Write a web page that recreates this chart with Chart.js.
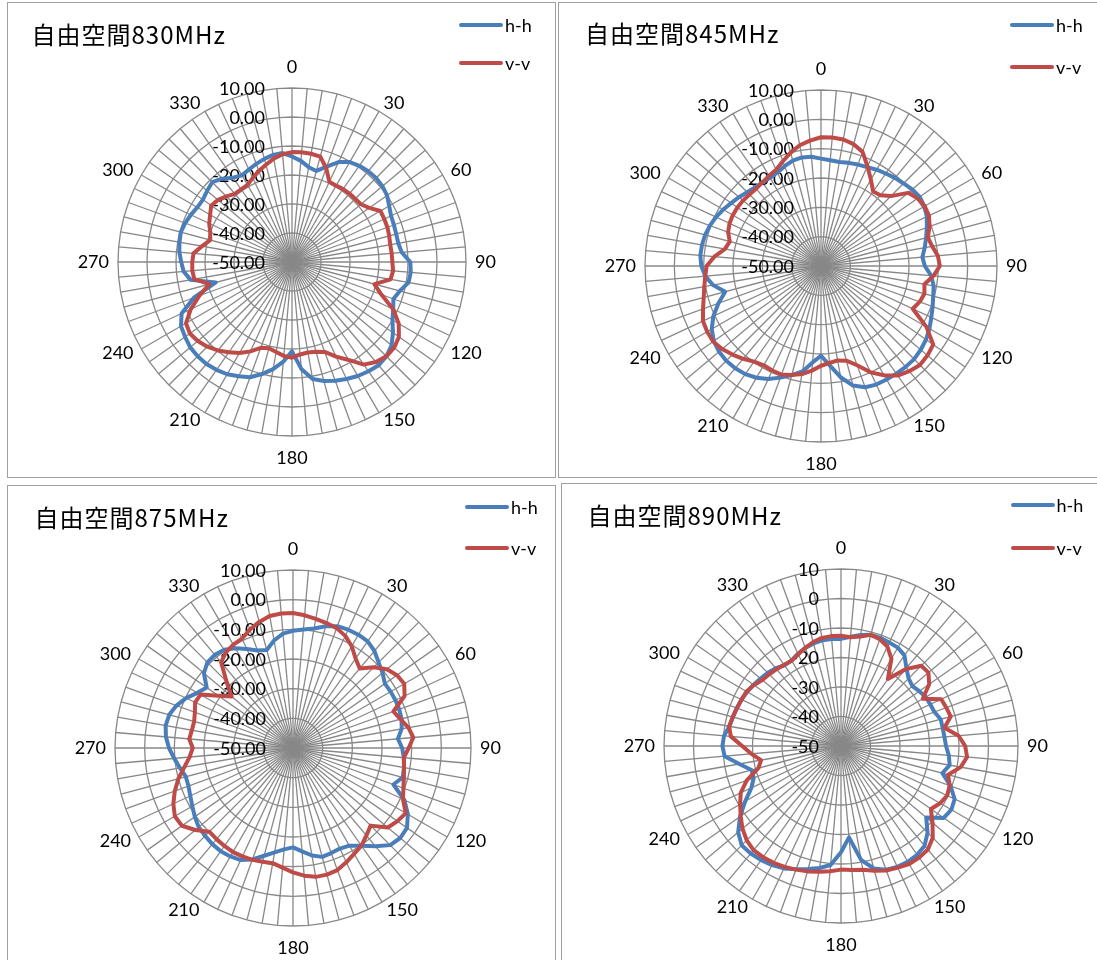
<!DOCTYPE html>
<html>
<head>
<meta charset="utf-8">
<script src="https://cdn.jsdelivr.net/npm/chart.js@4.4.1/dist/chart.umd.min.js"></script>
<style>
  html, body { margin: 0; padding: 0; background: #fff; }
  body { width: 1097px; height: 960px; position: relative; overflow: hidden; }
  .panel { position: absolute; box-sizing: border-box; border: 1px solid #a0a0a0; background: #fff; }
  .panel canvas { position: absolute; left: 0; top: 0; }
  .title { position: absolute; font-family: 'Noto Sans CJK JP'; font-size: 24px; line-height: 24px; letter-spacing: 1px; white-space: nowrap; color: #000; }
  .item { position: absolute; height: 20px; line-height: 20px; font-family: Lato; font-size: 18px; color: #000; white-space: nowrap; }
  .item .swatch { position: absolute; left: 0; top: 8px; width: 44px; height: 4px; border-radius: 2px; }
  .item span { position: absolute; left: 46px; top: 0; }
</style>
</head>
<body>
<script>
// angle of each spoke, degrees
var angles = [0, 5, 10, 15, 20, 25, 30, 35, 40, 45, 50, 55,
  60, 65, 70, 75, 80, 85, 90, 95, 100, 105, 110, 115,
  120, 125, 130, 135, 140, 145, 150, 155, 160, 165, 170, 175,
  180, 185, 190, 195, 200, 205, 210, 215, 220, 225, 230, 235,
  240, 245, 250, 255, 260, 265, 270, 275, 280, 285, 290, 295,
  300, 305, 310, 315, 320, 325, 330, 335, 340, 345, 350, 355];

var seriesNames = ['h-h', 'v-v'];

// 830MHz
var hh830 = [-13.6, -15, -16.8, -17.5, -15, -12, -10.2, -9.5, -9.1, -9, -9.3, -10,
  -11.3, -12.3, -12.6, -12.8, -12.8, -12, -9.2, -8.9, -9.2, -11.5, -12.8, -11.5,
  -10, -7.5, -5.2, -4, -3.5, -4, -4.6, -5.5, -6.4, -7.5, -9, -13,
  -19.2, -15.5, -12.5, -10, -7.7, -6.5, -5.3, -4.6, -4.1, -4, -4.2, -5,
  -5.8, -8, -14, -22.8, -14.5, -12.5, -11.8, -11, -10.6, -10.3, -10.8, -11.5,
  -12.3, -12.5, -11.8, -11.1, -12.5, -14.5, -15.5, -14.8, -14, -13.2, -12.5, -12.3];
var vv830 = [-12.1, -12, -12.1, -12.4, -15.5, -19.5, -19.6, -19.3, -19.2, -19.2, -19, -17.5,
  -14.8, -14.9, -15, -15.3, -15.6, -15.5, -15.4, -15, -15.5, -20.6, -17.2, -11.5,
  -7.5, -5, -4, -4, -5, -6.8, -11, -14, -17, -18, -18.3, -18,
  -17, -17.5, -18.5, -19.2, -18.5, -16, -13.8, -12, -10.2, -8.7, -7.6, -7,
  -7.8, -11.5, -16, -20.5, -15.8, -15.5, -15.6, -15.9, -18.5, -20.8, -20, -18.5,
  -17.4, -16, -16.7, -18, -19.3, -19.4, -19.3, -18, -16.6, -15.3, -13.8, -12.7];

// 845MHz
var hh845 = [-13.4, -13.8, -14, -13.6, -13.2, -12.8, -12.1, -11.5, -10.8, -10.2, -9.4, -8.9,
  -9.3, -10.2, -11.6, -12.9, -14.1, -15.3, -14.6, -12.3, -11, -10.4, -9.5, -8.5,
  -7.3, -6.3, -5.6, -5.1, -5.1, -5.2, -5.3, -5.4, -6, -7.8, -11.5, -16,
  -19.4, -17, -13.5, -11.5, -9.5, -7.5, -6, -5, -4.5, -4.3, -4.6, -5.4,
  -7, -9.5, -12.8, -16.2, -12.6, -10.4, -9.2, -8.7, -8.8, -9.1, -9.7, -10.5,
  -11.5, -12.6, -13.5, -14.4, -15, -15.2, -15.3, -14.8, -13.8, -12.8, -12.4, -12.6];
var vv845 = [-6.1, -6, -6.2, -7, -8.6, -12.5, -16, -19, -18.5, -16.3, -11.2, -9.8,
  -9.2, -9.4, -10.6, -12.3, -11.5, -10, -9.5, -11.5, -14.2, -13.5, -14.2, -15.5,
  -8.5, -3.3, -2.6, -2.3, -3.2, -4.4, -7, -10, -14, -16.6, -17.3, -16.8,
  -16, -14.2, -12.6, -11.5, -10.6, -10.7, -10.9, -10.2, -8.7, -7.3, -6, -5.1,
  -5.2, -5.6, -7.2, -8.6, -9.6, -10.4, -11, -13.5, -16.7, -17.8, -16.3, -15.6,
  -15.3, -15.2, -15.3, -15.5, -15.6, -15.2, -14.5, -13.8, -12, -10, -8.2, -7.1];

// 875MHz
var hh875 = [-10.5, -9.9, -9.1, -7.5, -6.3, -6, -5.9, -6.1, -7.3, -9.2, -10.6, -12.2,
  -12, -11.9, -11.9, -12.1, -12.8, -14.5, -13.2, -12.5, -12, -11.7, -14, -8.6,
  -5.3, -3.1, -2.8, -3.7, -6.8, -9.8, -12, -12.6, -12.3, -12, -13.2, -15,
  -16.5, -15.7, -14.3, -12.4, -10, -8.3, -7.8, -7.5, -7.7, -8.1, -8.5, -9.6,
  -10.8, -11.8, -12.5, -12.6, -11.3, -9.8, -8.2, -7, -6.4, -6.8, -8.2, -10.2,
  -12.8, -14.5, -10.8, -9.2, -9, -9.6, -11.2, -13.2, -15, -15.8, -13.2, -11.3];
var vv875 = [-4.5, -5.1, -5.8, -6.4, -7, -8.3, -10.4, -13.2, -15, -11.5, -8.7, -7.2,
  -6.7, -8.5, -14, -12.5, -10.5, -9.3, -11, -12.5, -12, -11.3, -10.4, -9.1,
  -6.1, -7, -8.3, -13, -11.5, -9.8, -8.8, -7.5, -6.2, -5.8, -5.9, -6.8,
  -8.1, -9.5, -10.6, -10.3, -9.9, -9.7, -9.5, -9.7, -9.9, -10.1, -7, -4.3,
  -4, -5.5, -7.6, -10, -12.8, -15, -16.2, -14.9, -15.4, -15.5, -14.8, -13.6,
  -14, -19.3, -23, -18.3, -12.3, -10.6, -9.8, -9.3, -7.5, -6, -4.8, -4.5];

// 890MHz
var hh890 = [-13.7, -12.8, -11.8, -11, -11, -11.3, -11.5, -12.5, -15.5, -17.6, -18.4, -17.6,
  -16.8, -16.6, -16.3, -15, -15, -14.8, -14.4, -13.3, -12.6, -14.4, -10.5, -7.5,
  -6.8, -7.5, -12.3, -8.5, -5.9, -5, -4.7, -4.8, -5.4, -7, -10.8, -18.9,
  -14, -9.5, -8, -6.8, -5.5, -4.2, -3.4, -2.8, -2.4, -2.4, -4.5, -8.2,
  -12.5, -16.5, -18.5, -18.6, -15, -10.4, -9.8, -10.2, -11.6, -12.1, -12.4, -12.8,
  -13.3, -13.8, -14.4, -14.9, -15.6, -16.6, -16.5, -15.5, -14.6, -14, -13.6, -13.6];
var vv890 = [-12.6, -13, -12.3, -11, -11.5, -12.8, -15.8, -22.3, -16, -11.5, -11.3, -13.5,
  -18, -12.5, -12, -11.5, -14.4, -10, -7.9, -7.1, -8.8, -12.4, -10.8, -10.3,
  -11.2, -12.8, -9.5, -6, -4.2, -3.8, -3.8, -4.5, -5.1, -6.2, -7.4, -7.8,
  -8.1, -7.4, -6.7, -6, -5.4, -4.8, -4.3, -4, -3.9, -4.8, -6.4, -8.5,
  -10.5, -12.5, -16, -21, -22.5, -19.5, -16.5, -12.5, -11.5, -12, -12.5, -12.8,
  -13, -14, -15.2, -15.6, -16, -16.4, -16.6, -15.7, -14.6, -13.5, -12.8, -12.6];

var colors = ['#4A7EBB', '#BE4B48'];
var labelFont = 'Lato';
var labelSize = 18;
var labelPad = 9;
var labelEvery = 30;

// layout of the four panels (page pixels)
var panels = [
  { title: '自由空間830MHz', hh: hh830, vv: vv830, decimals: 2,
    box: [7, 2, 549, 476], center: [292.5, 262.5], radius: 174.5, tickGap: 27,
    titleAt: [31.5, 35], legendAt: [459, 25, 63.3] },
  { title: '自由空間845MHz', hh: hh845, vv: vv845, decimals: 2,
    box: [558, 2, 545, 476], center: [821.5, 266.7], radius: 176.5, tickGap: 27,
    titleAt: [585, 34], legendAt: [1010, 25, 66.7] },
  { title: '自由空間875MHz', hh: hh875, vv: vv875, decimals: 2,
    box: [7, 485, 549, 480], center: [293.6, 748.3], radius: 178.7, tickGap: 27,
    titleAt: [34.5, 518.3], legendAt: [465, 507.3, 548.3] },
  { title: '自由空間890MHz', hh: hh890, vv: vv890, decimals: 0,
    box: [561, 483, 545, 480], center: [841.3, 746.7], radius: 177.4, tickGap: 22,
    titleAt: [587.5, 516], legendAt: [1010.5, 505, 548.3] }
];

// Excel-style axis text: value labels right-aligned left of the 0 spoke,
// angle labels centred beside the ring (drawn from the scale's geometry)
var axisText = {
  id: 'axisText',
  beforeDatasetsDraw: function (chart, args, opts) {
    var scale = chart.scales.r;
    var ctx = chart.ctx;
    ctx.save();
    ctx.font = labelSize + 'px ' + labelFont;
    ctx.fillStyle = '#000';
    ctx.textBaseline = 'middle';

    ctx.textAlign = 'right';
    scale.ticks.forEach(function (tick) {
      var y = scale.yCenter - scale.getDistanceFromCenterForValue(tick.value);
      ctx.fillText(tick.value.toFixed(opts.decimals), scale.xCenter - opts.gap, y + 1);
    });

    chart.data.labels.forEach(function (a, i) {
      if (a % labelEvery !== 0) return;
      var pos = scale.getPointPosition(i, scale.drawingArea + labelPad);
      var y = pos.y;
      if (a === 0) { ctx.textAlign = 'center'; y -= 12; }
      else if (a === 180) { ctx.textAlign = 'center'; y += 13; }
      else ctx.textAlign = a < 180 ? 'left' : 'right';
      ctx.fillText(String(a), pos.x, y);
    });
    ctx.restore();
  }
};

Chart.defaults.font.family = labelFont;

panels.forEach(function (p) {
  var div = document.createElement('div');
  div.className = 'panel';
  div.style.left = p.box[0] + 'px';
  div.style.top = p.box[1] + 'px';
  div.style.width = p.box[2] + 'px';
  div.style.height = p.box[3] + 'px';
  document.body.appendChild(div);

  var W = p.box[2] - 2, H = p.box[3] - 2;
  var canvas = document.createElement('canvas');
  canvas.width = W;
  canvas.height = H;
  div.appendChild(canvas);

  var cx = p.center[0] - (p.box[0] + 1);
  var cy = p.center[1] - (p.box[1] + 1);
  var R = p.radius;

  new Chart(canvas, {
    type: 'radar',
    data: {
      labels: angles,
      datasets: [
        { label: seriesNames[0], data: p.hh, borderColor: colors[0], backgroundColor: colors[0], order: 1 },
        { label: seriesNames[1], data: p.vv, borderColor: colors[1], backgroundColor: colors[1], order: 0 }
      ]
    },
    options: {
      responsive: false,
      animation: false,
      layout: { padding: { top: cy - R, bottom: H - cy - R, left: cx - R, right: W - cx - R } },
      elements: {
        line: { borderWidth: 4, tension: 0, fill: false, borderJoinStyle: 'round', borderCapStyle: 'round' },
        point: { radius: 0, hoverRadius: 0 }
      },
      plugins: {
        legend: { display: false },
        tooltip: { enabled: false },
        axisText: { decimals: p.decimals, gap: p.tickGap }
      },
      scales: {
        r: {
          min: -50,
          max: 10,
          ticks: { stepSize: 10, display: false },
          grid: { color: '#888888', lineWidth: 1.3 },
          angleLines: { color: '#888888', lineWidth: 1.3 },
          pointLabels: { display: false }
        }
      }
    },
    plugins: [axisText]
  });

  var t = document.createElement('div');
  t.className = 'title';
  t.textContent = p.title;
  t.style.left = p.titleAt[0] + 'px';
  t.style.top = (p.titleAt[1] - 13.5) + 'px';
  document.body.appendChild(t);

  [0, 1].forEach(function (i) {
    var item = document.createElement('div');
    item.className = 'item';
    item.style.left = p.legendAt[0] + 'px';
    item.style.top = (p.legendAt[1 + i] - 10) + 'px';
    var sw = document.createElement('div');
    sw.className = 'swatch';
    sw.style.background = colors[i];
    var tx = document.createElement('span');
    tx.textContent = seriesNames[i];
    item.appendChild(sw);
    item.appendChild(tx);
    document.body.appendChild(item);
  });
});
</script>
</body>
</html>
